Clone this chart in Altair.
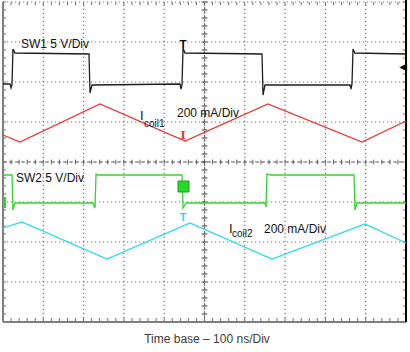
import altair as alt
import pandas as pd
import numpy as np

# ---------------- scope traces (time and level in screen divisions) ----------------
sw1_t = [0.000, 0.174, 0.199, 0.223, 0.248, 0.298, 2.134, 2.159, 2.208, 4.392, 4.417, 4.442,
         4.467, 4.516, 6.427, 6.452, 6.501, 8.610, 8.635, 8.660, 8.685, 8.734, 10.000]
sw1_v = [5.950, 5.950, 5.850, 5.925, 6.825, 6.725, 6.700, 5.725, 5.925, 5.950, 5.825, 5.925,
         6.850, 6.725, 6.700, 5.675, 5.925, 5.925, 5.825, 5.950, 6.825, 6.725, 6.700]

icoil1_t = [0.000, 0.422, 2.407, 4.516, 6.576, 8.908, 10.000]
icoil1_v = [4.675, 4.500, 5.450, 4.525, 5.450, 4.500, 5.025]

sw2_t = [0.000, 0.223, 0.248, 0.298, 2.233, 2.283, 2.308, 2.357, 4.442, 4.467, 4.541, 6.501,
         6.526, 6.551, 6.625, 8.710, 8.734, 8.784, 10.000]
sw2_v = [3.675, 3.675, 2.800, 2.975, 2.975, 2.850, 3.700, 3.675, 3.675, 2.850, 2.975, 2.975,
         2.875, 3.700, 3.675, 3.675, 2.800, 2.975, 2.975]

icoil2_t = [0.000, 0.471, 2.581, 4.640, 6.675, 8.983, 10.000]
icoil2_v = [2.350, 2.500, 1.575, 2.475, 1.575, 2.450, 1.975]

grid_major_t = [1, 2, 3, 4, 6, 7, 8, 9]
grid_major_v = [1, 2, 3, 5, 6, 7, 8]

X = alt.Scale(domain=[0, 10], nice=False, zero=False)
Y = alt.Scale(domain=[0, 8], nice=False, zero=False)

GRAY = "#6e6e6e"
REDDOT = "#e04848"
FONT = "Liberation Sans"


def trace(ts, vs, color):
    df = pd.DataFrame({"t": ts, "v": vs, "i": range(len(ts))})
    return alt.Chart(df).mark_line(color=color, strokeWidth=1.3, interpolate="linear").encode(
        x=alt.X("t:Q", scale=X, axis=None),
        y=alt.Y("v:Q", scale=Y, axis=None),
        order="i:Q",
    )


def vrules(ts, a, b, **kw):
    df = pd.DataFrame({"t": ts, "a": [a] * len(ts), "b": [b] * len(ts)})
    return alt.Chart(df).mark_rule(**kw).encode(
        x=alt.X("t:Q", scale=X, axis=None),
        y=alt.Y("a:Q", scale=Y, axis=None),
        y2="b:Q",
    )


def hrules(vs, a, b, **kw):
    df = pd.DataFrame({"v": vs, "a": [a] * len(vs), "b": [b] * len(vs)})
    return alt.Chart(df).mark_rule(**kw).encode(
        y=alt.Y("v:Q", scale=Y, axis=None),
        x=alt.X("a:Q", scale=X, axis=None),
        x2="b:Q",
    )


def label(text, x, y, size=12, color="#111111", align="left", font=FONT, weight="normal"):
    return alt.Chart(pd.DataFrame({"k": [0]})).mark_text(
        text=text, fontSize=size, color=color, align=align, baseline="alphabetic",
        font=font, fontWeight=weight,
    ).encode(x=alt.value(x), y=alt.value(y))


minor_t = list(np.round(np.arange(0, 10.001, 0.2), 3))
minor_v = list(np.round(np.arange(0, 8.001, 0.2), 3))

layers = []
# dotted major grid
layers.append(vrules(grid_major_t, 0, 8, color=GRAY, strokeWidth=1.2, strokeDash=[1.2, 6.8]))
layers.append(vrules(grid_major_t, 0, 8, color=REDDOT, strokeWidth=1.2, strokeDash=[1.2, 6.8], strokeDashOffset=4))
layers.append(hrules(grid_major_v, 0, 10, color=GRAY, strokeWidth=1.2, strokeDash=[1.2, 6.8]))
layers.append(hrules(grid_major_v, 0, 10, color=REDDOT, strokeWidth=1.2, strokeDash=[1.2, 6.8], strokeDashOffset=4))
# centre cross
layers.append(vrules([5], 0, 8, color=GRAY, strokeWidth=1.2, strokeDash=[2, 2]))
layers.append(vrules([5], 0, 8, color=REDDOT, strokeWidth=1.2, strokeDash=[1, 3], strokeDashOffset=2))
layers.append(hrules([4], 0, 10, color=GRAY, strokeWidth=1.2, strokeDash=[4, 2]))
layers.append(hrules([4], 0, 10, color=REDDOT, strokeWidth=1.2, strokeDash=[1, 5], strokeDashOffset=4))
# minor ticks on centre cross
layers.append(vrules(minor_t, 3.94, 4.06, color="#606060", strokeWidth=1))
layers.append(hrules(minor_v, 4.93, 5.07, color="#404040", strokeWidth=1))
# minor ticks on frame
layers.append(vrules(minor_t, 0, 0.1, color=GRAY, strokeWidth=1))
layers.append(vrules(minor_t, 7.92, 8, color=GRAY, strokeWidth=1))
layers.append(hrules(minor_v, 0, 0.075, color=GRAY, strokeWidth=1))
layers.append(hrules(minor_v, 9.92, 10, color=REDDOT, strokeWidth=1))
# frame
layers.append(vrules([0], 0, 8, color="#7f7f7f", strokeWidth=2))
layers.append(hrules([0], 0, 10, color="#7f7f7f", strokeWidth=2))
layers.append(vrules([10], 0, 8.05, color="#000000", strokeWidth=2))

# traces
layers.append(trace(icoil2_t, icoil2_v, "#22dcec"))
layers.append(trace(sw2_t, sw2_v, "#2ed82a"))
layers.append(trace(icoil1_t, icoil1_v, "#ee3333"))
layers.append(trace(sw1_t, sw1_v, "#1e1e1e"))

# channel labels
layers.append(label("SW1 5 V/Div", 18, 46))
layers.append(label("SW2 5 V/Div", 13, 180))
layers.append(label("I", 137, 118, size=13))
layers.append(label("coil1", 141, 125, size=10))
layers.append(label("200 mA/Div", 174, 115))
layers.append(label("I", 226, 231, size=13))
layers.append(label("coil2", 229, 235, size=10))
layers.append(label("200 mA/Div", 261, 231))
layers.append(label("Time base \u2013 100 ns/Div", 204, 341, color="#3c3c3c", align="center"))

# trace markers
layers.append(label("T", 180, 46, size=11, color="#000000", align="center", weight="bold"))
layers.append(label("I", 180, 137, size=11, color="#ee3333", align="center", font="DejaVu Serif", weight="bold"))
layers.append(label("T", 180, 219, size=11, color="#22dcec", align="center", weight="bold"))
layers.append(label("\u25C0", 400, 68, size=10, color="#000000", align="center", font="DejaVu Sans"))
layers.append(
    alt.Chart(pd.DataFrame({"k": [0]})).mark_rect(color="#22dd22", stroke="#3a8a3a", strokeWidth=1).encode(
        x=alt.value(175), x2=alt.value(186), y=alt.value(179), y2=alt.value(190)
    )
)
layers.append(
    alt.Chart(pd.DataFrame({"k": [0]})).mark_rect(color="#22dd22").encode(
        x=alt.value(0), x2=alt.value(3), y=alt.value(195), y2=alt.value(206)
    )
)

chart = alt.layer(*layers).properties(
    width=403,
    height=320,
    padding={"left": 3, "top": 2, "right": 4, "bottom": 30},
    autosize="none",
    background="white",
).configure_view(stroke=None)

chart.save("out.html", embed_options={"renderer": "svg", "actions": False})
